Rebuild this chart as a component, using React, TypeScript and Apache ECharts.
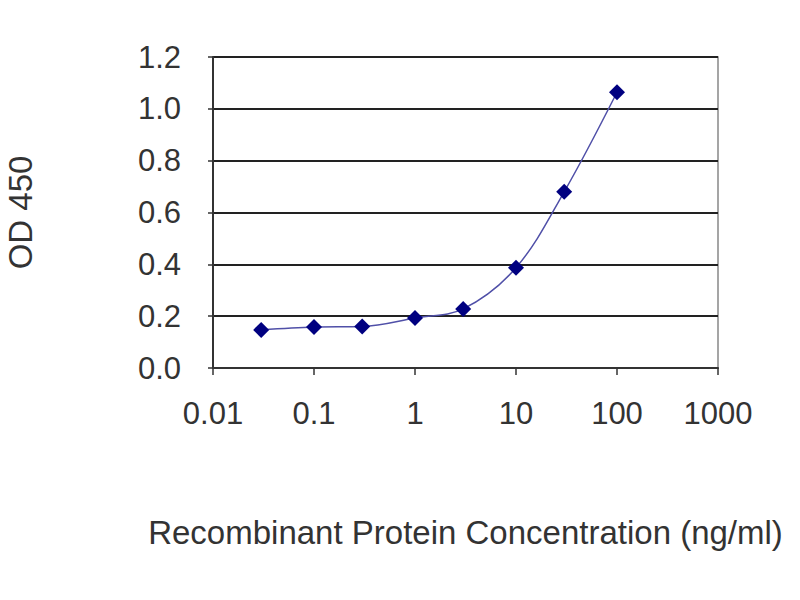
import { useEffect, useRef } from 'react';
import * as echarts from 'echarts';

// concentration (ng/ml) and OD 450
const concentrations = [0.03, 0.1, 0.3, 1, 3, 10, 30, 100];
const odValues = [0.147, 0.158, 0.16, 0.193, 0.228, 0.387, 0.68, 1.064];

const xTitle = 'Recombinant Protein Concentration (ng/ml)';
const yTitle = 'OD 450';

const fmtLog = (v: number) => String(Number(v.toPrecision(3)));

export default function App() {
  const chartRef = useRef<HTMLDivElement>(null);

  useEffect(() => {
    if (!chartRef.current) return;
    const chart = echarts.init(chartRef.current, undefined, { renderer: 'svg' });

    const font = 'Liberation Sans, Arial, sans-serif';
    const tickFont = { color: '#333', fontSize: 31, fontFamily: font };
    const nameFont = { color: '#333', fontSize: 33, fontFamily: font };

    const option: echarts.EChartsOption = {
      animation: false,
      backgroundColor: '#fff',
      grid: {
        left: 213,
        right: 82,
        top: 57,
        bottom: 232,
        outerBoundsMode: 'none',
        show: true,
        borderColor: '#888',
        borderWidth: 1.5,
      } as any,
      xAxis: {
        type: 'log',
        logBase: 10,
        min: 0.01,
        max: 1000,
        name: xTitle,
        nameLocation: 'middle',
        nameGap: 148,
        nameTextStyle: nameFont,
        axisLine: { show: true, lineStyle: { color: '#333', width: 2 } },
        axisTick: { show: true, length: 7, lineStyle: { color: '#333', width: 1.5 } },
        minorTick: { show: false },
        splitLine: { show: false },
        axisLabel: { ...tickFont, margin: 30, formatter: (v: number) => fmtLog(v) },
      },
      yAxis: {
        type: 'value',
        min: 0,
        max: 1.2,
        interval: 0.2,
        name: yTitle,
        nameLocation: 'middle',
        nameGap: 176,
        nameTextStyle: nameFont,
        axisLine: { show: true, lineStyle: { color: '#333', width: 2 } },
        axisTick: { show: true, length: 5, lineStyle: { color: '#333', width: 1.5 } },
        splitLine: { show: true, lineStyle: { color: '#222', width: 2 } },
        axisLabel: { ...tickFont, margin: 32, formatter: (v: number) => v.toFixed(1) },
      },
      series: [
        {
          type: 'line',
          data: concentrations.map((c, i) => [c, odValues[i]]),
          smooth: 0.35,
          symbol: 'diamond',
          symbolSize: 16,
          itemStyle: { color: '#000080' },
          lineStyle: { color: '#5050a8', width: 1.5 },
        },
      ],
    };

    chart.setOption(option);
    return () => chart.dispose();
  }, []);

  // cancel the body's 8px margin so the chart fills the 800x600 window
  return <div ref={chartRef} style={{ width: 800, height: 600, margin: -8 }} />;
}
